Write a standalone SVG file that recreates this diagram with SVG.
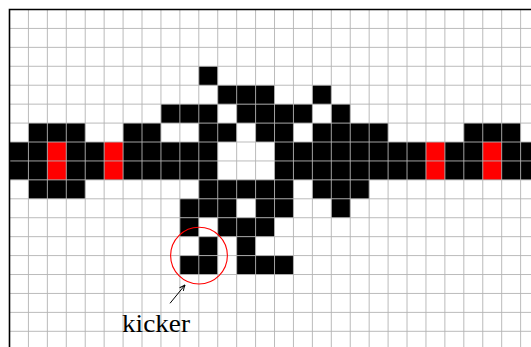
<svg xmlns="http://www.w3.org/2000/svg" width="531" height="347" viewBox="0 0 531 347">
  <style>
    .b { fill: #000000; }
    .r { fill: #ff0000; }
    .grid { fill: none; stroke: #b3b3b3; stroke-width: 0.9; }
    .frame { fill: none; stroke: #000000; stroke-width: 1.6; }
    .lbl { font-family: "Liberation Serif", "Times New Roman", serif; font-size: 25px; fill: #000000; }
  </style>
  <defs>
    <marker id="arr" viewBox="0 0 10 10" refX="9" refY="5" markerWidth="7" markerHeight="7" markerUnits="userSpaceOnUse" orient="auto">
      <path d="M1,1.5 Q6,4.2 9,5 Q6,5.8 1,8.5" fill="none" stroke="#000" stroke-width="1.4"/>
    </marker>
  </defs>
  <rect x="0" y="0" width="531" height="347" fill="#ffffff"/>
  <g id="pixels" transform="matrix(18.93 0 0 18.93 9.5 9.5)">
    <g class="b">
      <rect x="10" y="3" width="1" height="1"/>
      <rect x="11" y="4" width="3" height="1"/>
      <rect x="16" y="4" width="1" height="1"/>
      <rect x="8" y="5" width="3" height="1"/>
      <rect x="12" y="5" width="4" height="1"/>
      <rect x="17" y="5" width="1" height="1"/>
      <rect x="1" y="6" width="3" height="1"/>
      <rect x="6" y="6" width="2" height="1"/>
      <rect x="10" y="6" width="2" height="1"/>
      <rect x="13" y="6" width="2" height="1"/>
      <rect x="16" y="6" width="4" height="1"/>
      <rect x="24" y="6" width="3" height="1"/>
      <rect x="0" y="7" width="11" height="2"/>
      <rect x="14" y="7" width="14" height="2"/>
      <rect x="1" y="9" width="3" height="1"/>
      <rect x="10" y="9" width="5" height="1"/>
      <rect x="16" y="9" width="3" height="1"/>
      <rect x="9" y="10" width="3" height="1"/>
      <rect x="13" y="10" width="2" height="1"/>
      <rect x="17" y="10" width="1" height="1"/>
      <rect x="9" y="11" width="1" height="1"/>
      <rect x="11" y="11" width="3" height="1"/>
      <rect x="10" y="12" width="1" height="1"/>
      <rect x="12" y="12" width="1" height="1"/>
      <rect x="9" y="13" width="2" height="1"/>
      <rect x="12" y="13" width="3" height="1"/>
    </g>
    <g class="r">
      <rect x="2" y="7" width="1" height="2"/>
      <rect x="5" y="7" width="1" height="2"/>
      <rect x="22" y="7" width="1" height="2"/>
      <rect x="25" y="7" width="1" height="2"/>
    </g>
    <path class="grid" vector-effect="non-scaling-stroke" d="M1 0V18M2 0V18M3 0V18M4 0V18M5 0V18M6 0V18M7 0V18M8 0V18M9 0V18M10 0V18M11 0V18M12 0V18M13 0V18M14 0V18M15 0V18M16 0V18M17 0V18M18 0V18M19 0V18M20 0V18M21 0V18M22 0V18M23 0V18M24 0V18M25 0V18M26 0V18M27 0V18M0 1H28M0 2H28M0 3H28M0 4H28M0 5H28M0 6H28M0 7H28M0 8H28M0 9H28M0 10H28M0 11H28M0 12H28M0 13H28M0 14H28M0 15H28M0 16H28M0 17H28"/>
  </g>
  <path id="frame" class="frame" d="M9.5 347V9.5H531"/>
  <g id="kicker">
    <circle cx="199" cy="255.6" r="28.4" fill="none" stroke="#ff0000" stroke-width="1.1"/>
    <text class="lbl" x="122" y="331.5" textLength="68" lengthAdjust="spacingAndGlyphs">kicker</text>
  </g>
  <g id="connectors">
    <line x1="170" y1="303.3" x2="185" y2="285" stroke="#000" stroke-width="1" marker-end="url(#arr)"/>
  </g>
</svg>
